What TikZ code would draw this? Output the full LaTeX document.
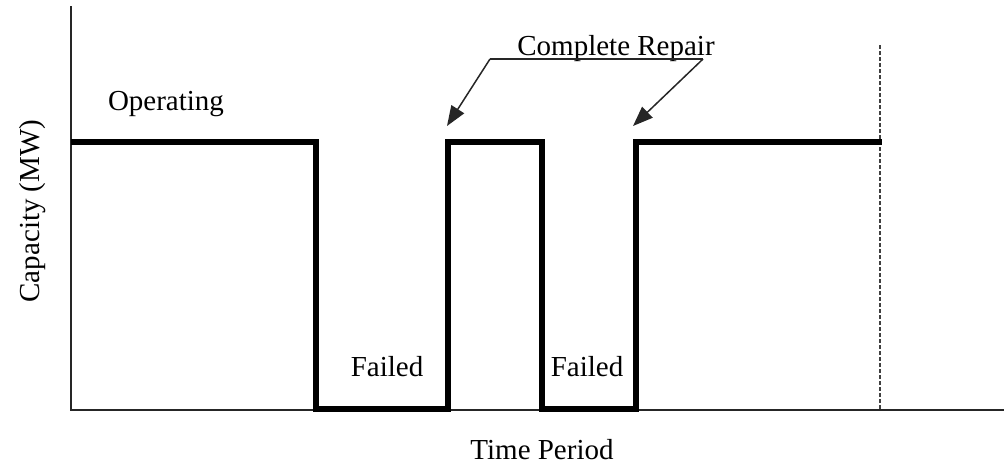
\documentclass[tikz,border=0pt]{standalone}
\usepackage{fontspec}
\setmainfont{Liberation Serif}
\usetikzlibrary{arrows.meta}
\tikzset{
  lbl/.style={inner sep=0pt, anchor=base, font=\fontsize{29}{31}\selectfont},
  axis/.style={line width=1.4pt, black!85},
  level/.style={line width=6pt, line join=miter, black},
  pointer/.style={line width=1.5pt, black!85, -{Triangle[length=20pt,width=15pt]}},
  horizon/.style={line width=1.3pt, black!75, dash pattern=on 4pt off 2pt}
}
\begin{document}
\begin{tikzpicture}[x=1pt,y=-1pt]
\useasboundingbox (0,0) rectangle (1004,467);
% axes
\coordinate (origin) at (71,410);
\coordinate (ytop) at (71,6);
\coordinate (xend) at (1004,410);
\draw[axis] (ytop) -- (origin) -- (xend);
% end of the observed period
\coordinate (htop) at (880,45);
\coordinate (hbot) at (880,410);
\draw[horizon] (htop) -- (hbot);
% capacity over time
\draw[level] (71,142) -- (316,142) -- (316,409) -- (448,409) -- (448,142)
  -- (542,142) -- (542,409) -- (636,409) -- (636,142) -- (882,142);
% labels
\node[lbl] (operating) at (166,110) {Operating};
\node[lbl] (failedA) at (387,376) {Failed};
\node[lbl] (failedB) at (587,376) {Failed};
\node[lbl] (timeperiod) at (542,459) {Time Period};
\node[lbl, rotate=90] (capacity) at (39,211) {Capacity (MW)};
\node[lbl] (repair) at (616,55) {Complete Repair};
% repair callout
\coordinate (repL) at (490,59);
\coordinate (repR) at (703,59);
\coordinate (upA) at (447,126);
\coordinate (upB) at (633,126);
\draw[axis, line width=1.2pt] (repL) -- (repR);
\draw[pointer] (repL) -- (upA);
\draw[pointer] (repR) -- (upB);
\end{tikzpicture}
\end{document}
